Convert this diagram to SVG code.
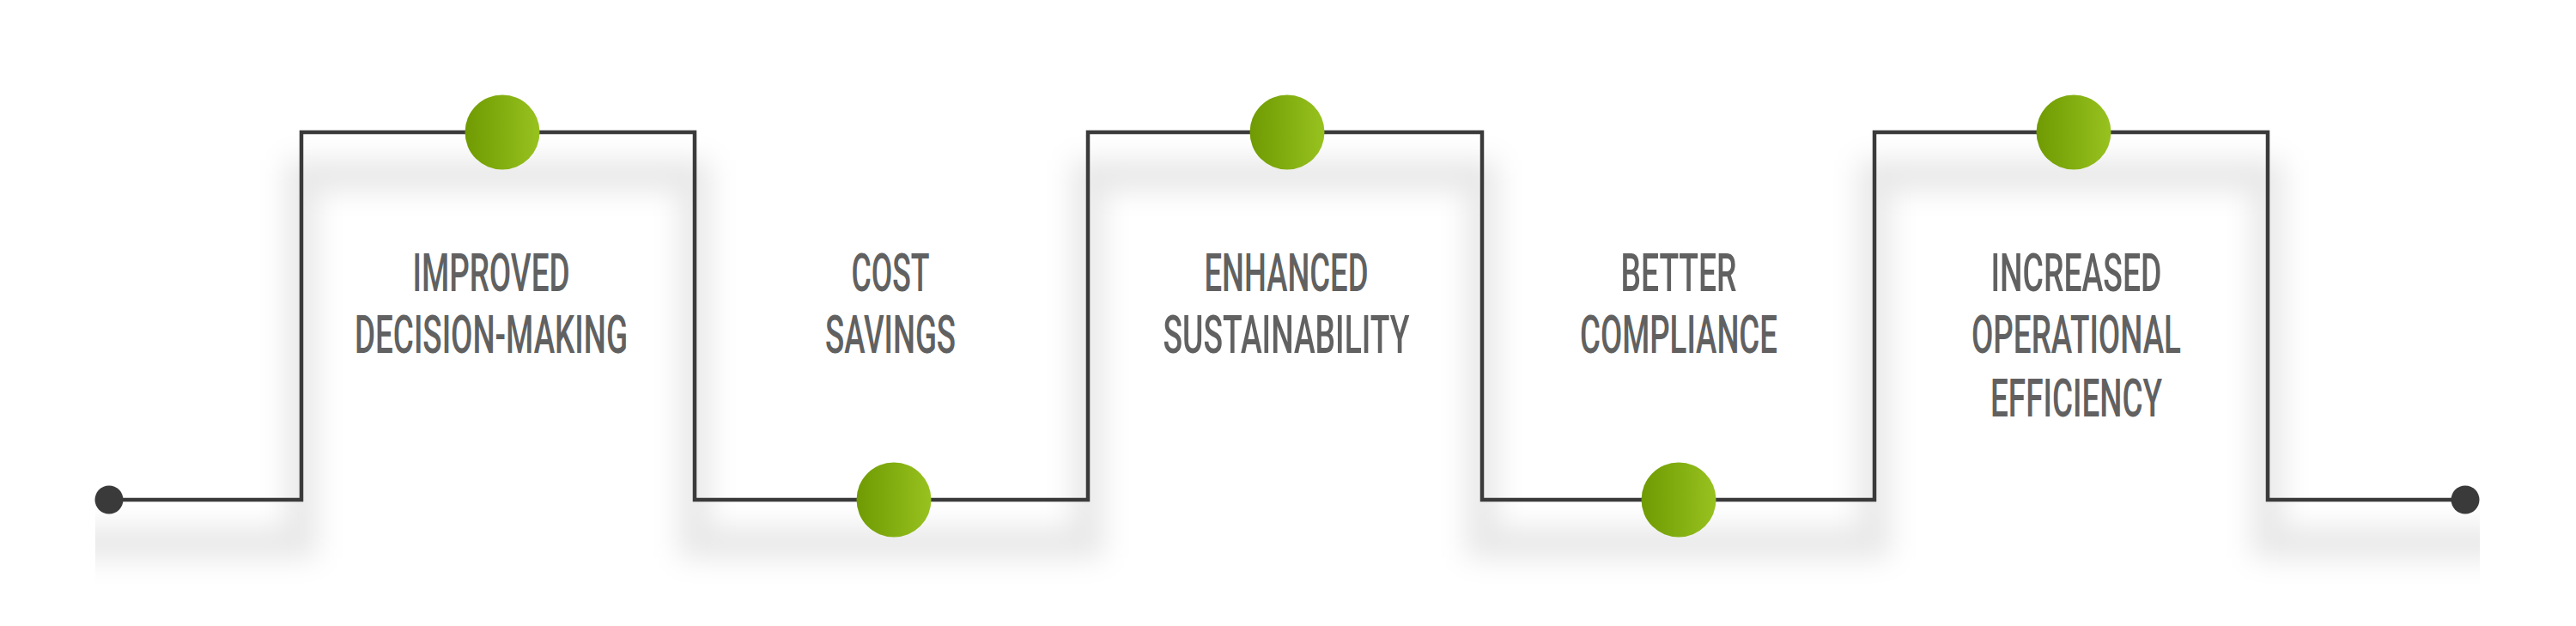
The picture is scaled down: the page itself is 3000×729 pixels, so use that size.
<svg xmlns="http://www.w3.org/2000/svg" width="3000" height="729" viewBox="0 0 3000 729">
  <style>
    .lbl { font-family: Roboto, "Liberation Sans", sans-serif; font-size: 62px; font-weight: 500; fill: #616161; text-anchor: middle; }
    .wire { fill: none; stroke: #3a3a3a; stroke-width: 4.5; stroke-linejoin: miter; }
    .shadow { fill: none; stroke: #000; stroke-opacity: 0.095; stroke-width: 36; stroke-linejoin: miter; }
    .end { fill: #3a3a3a; }
    .bead { fill: url(#green); }
  </style>
  <defs>
    <linearGradient id="green" x1="0" y1="0" x2="1" y2="0">
      <stop offset="0" stop-color="#6f9a02"/>
      <stop offset="1" stop-color="#97c21f"/>
    </linearGradient>
    <filter id="blur" filterUnits="userSpaceOnUse" x="0" y="0" width="3000" height="729">
      <feGaussianBlur stdDeviation="16"/>
    </filter>
    <clipPath id="shClip">
      <rect x="111" y="0" width="2777" height="729"/>
    </clipPath>
  </defs>
  <rect x="0" y="0" width="3000" height="729" fill="#ffffff"/>

  <g id="shadows" clip-path="url(#shClip)">
    <path class="shadow" filter="url(#blur)" transform="translate(0,50)" d="M60,582 H351 V154 H809 V582 H1267 V154 H1726 V582 H2183 V154 H2641 V582 H2940"/>
  </g>

  <g id="connectors">
    <path class="wire" d="M127,582 H351 V154 H809 V582 H1267 V154 H1726 V582 H2183 V154 H2641 V582 H2871"/>
  </g>

  <g id="start">
    <circle class="end" cx="127" cy="582" r="16.5"/>
  </g>
  <g id="finish">
    <circle class="end" cx="2871" cy="582" r="16.5"/>
  </g>

  <g id="step1">
    <circle class="bead" cx="585" cy="154" r="43.5"/>
    <text class="lbl" x="572" y="339" textLength="183" lengthAdjust="spacingAndGlyphs">IMPROVED</text>
    <text class="lbl" x="572" y="411" textLength="318" lengthAdjust="spacingAndGlyphs">DECISION-MAKING</text>
  </g>
  <g id="step2">
    <circle class="bead" cx="1041" cy="582" r="43.5"/>
    <text class="lbl" x="1037" y="339" textLength="91" lengthAdjust="spacingAndGlyphs">COST</text>
    <text class="lbl" x="1037" y="411" textLength="152" lengthAdjust="spacingAndGlyphs">SAVINGS</text>
  </g>
  <g id="step3">
    <circle class="bead" cx="1499" cy="154" r="43.5"/>
    <text class="lbl" x="1498" y="339" textLength="191" lengthAdjust="spacingAndGlyphs">ENHANCED</text>
    <text class="lbl" x="1498" y="411" textLength="287" lengthAdjust="spacingAndGlyphs">SUSTAINABILITY</text>
  </g>
  <g id="step4">
    <circle class="bead" cx="1955" cy="582" r="43.5"/>
    <text class="lbl" x="1955" y="339" textLength="135" lengthAdjust="spacingAndGlyphs">BETTER</text>
    <text class="lbl" x="1955" y="411" textLength="230" lengthAdjust="spacingAndGlyphs">COMPLIANCE</text>
  </g>
  <g id="step5">
    <circle class="bead" cx="2415" cy="154" r="43.5"/>
    <text class="lbl" x="2418" y="339" textLength="199" lengthAdjust="spacingAndGlyphs">INCREASED</text>
    <text class="lbl" x="2418" y="411" textLength="244" lengthAdjust="spacingAndGlyphs">OPERATIONAL</text>
    <text class="lbl" x="2418" y="485" textLength="200" lengthAdjust="spacingAndGlyphs">EFFICIENCY</text>
  </g>
</svg>
